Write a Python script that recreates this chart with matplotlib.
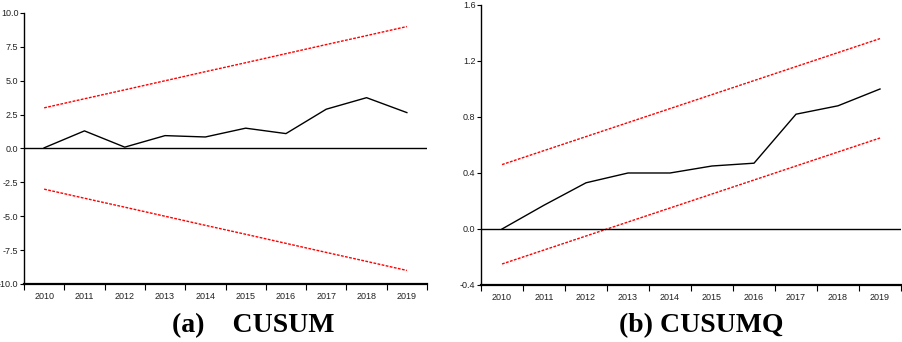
import numpy as np
import matplotlib.pyplot as plt
from matplotlib.ticker import FixedLocator, NullFormatter

years = ['2010', '2011', '2012', '2013', '2014', '2015', '2016', '2017', '2018', '2019']

# CUSUM statistic and 5% bounds
cusum = [0.05, 1.3, 0.1, 0.95, 0.85, 1.5, 1.1, 2.9, 3.75, 2.65]
cusum_upper = [3.0, 3.67, 4.33, 5.0, 5.67, 6.33, 7.0, 7.67, 8.33, 9.0]
cusum_lower = [-3.0, -3.67, -4.33, -5.0, -5.67, -6.33, -7.0, -7.67, -8.33, -9.0]

# CUSUM of squares and 5% bounds
cusumq = [0.0, 0.17, 0.33, 0.40, 0.40, 0.45, 0.47, 0.82, 0.88, 1.0]
cusumq_upper = [0.46, 0.56, 0.66, 0.76, 0.86, 0.96, 1.06, 1.16, 1.26, 1.36]
cusumq_lower = [-0.25, -0.15, -0.05, 0.05, 0.15, 0.25, 0.35, 0.45, 0.55, 0.65]

tick_font = ['Liberation Sans Narrow', 'Liberation Sans', 'DejaVu Sans']


def draw_panel(ax, stat, upper, lower, ylim, yticks, yfmt):
    x = np.arange(len(years))
    ax.plot(x, stat, color='black', lw=1.0)
    ax.plot(x, upper, color='red', lw=1.0, ls=(0, (2, 1)))
    ax.plot(x, lower, color='red', lw=1.0, ls=(0, (2, 1)))
    ax.axhline(0, color='black', lw=1.0)

    ax.set_xlim(-0.5, len(years) - 0.5)
    ax.set_ylim(*ylim)
    ax.spines['top'].set_visible(False)
    ax.spines['right'].set_visible(False)
    ax.spines['left'].set_linewidth(1.0)
    ax.spines['bottom'].set_linewidth(1.6)

    # ticks at category boundaries, labels centred on categories
    ax.xaxis.set_major_locator(FixedLocator(np.arange(-0.5, len(years), 1.0)))
    ax.xaxis.set_major_formatter(NullFormatter())
    ax.xaxis.set_minor_locator(FixedLocator(x))
    ax.set_xticklabels(years, minor=True)
    ax.tick_params(axis='x', which='major', length=4, width=0.8, direction='out')
    ax.tick_params(axis='x', which='minor', length=0, pad=6)

    ax.set_yticks(yticks)
    ax.set_yticklabels([yfmt.format(v) for v in yticks])
    ax.tick_params(axis='y', length=3, width=0.8, pad=1)

    for lbl in ax.get_xticklabels(minor=True) + ax.get_yticklabels():
        lbl.set_fontfamily(tick_font)
        lbl.set_fontsize(6.5)
        lbl.set_color('#222222')


fig = plt.figure(figsize=(9.02, 3.42), dpi=100)

ax1 = fig.add_axes([0.0266, 0.1696, 0.4468, 0.7924])
draw_panel(ax1, cusum, cusum_upper, cusum_lower, (-10, 10),
           [-10, -7.5, -5, -2.5, 0, 2.5, 5, 7.5, 10], '{:.1f}')

ax2 = fig.add_axes([0.5333, 0.1667, 0.4656, 0.8187])
draw_panel(ax2, cusumq, cusumq_upper, cusumq_lower, (-0.4, 1.6),
           [-0.4, 0.0, 0.4, 0.8, 1.2, 1.6], '{:.1f}')

cap_font = ['Liberation Serif', 'DejaVu Serif']
fig.text(0.2805, 0.03, '(a)    CUSUM', ha='center', va='baseline',
         fontsize=20, fontweight='bold', family=cap_font)
fig.text(0.777, 0.03, '(b) CUSUMQ', ha='center', va='baseline',
         fontsize=20, fontweight='bold', family=cap_font)

fig.savefig('out.png', dpi=100)
